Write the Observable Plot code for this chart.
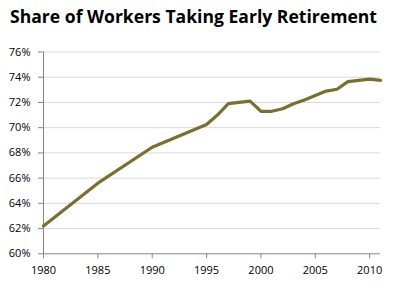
<!DOCTYPE html>
<html><head><meta charset="utf-8">
<script src="https://cdn.jsdelivr.net/npm/d3@7"></script>
<script src="https://cdn.jsdelivr.net/npm/@observablehq/plot@0.6"></script>
<style>
body{margin:0;background:#fff;width:395px;height:285px;overflow:hidden;}
#title{position:relative;height:40px;}
#title span{position:absolute;left:10px;top:3px;font:bold 18.5px "Open Sans",sans-serif;color:#000;white-space:nowrap;transform-origin:0 0;}
</style></head>
<body>
<div id="title"><span id="t">Share of Workers Taking Early Retirement</span></div>
<div id="chart"></div>
<script>
const years = [1980,1985,1990,1995,1996,1997,1998,1999,2000,2001,2002,2003,2004,2005,2006,2007,2008,2009,2010,2011];
const share = [62.2,65.6,68.45,70.25,71.0,71.9,72.0,72.1,71.3,71.3,71.5,71.9,72.2,72.55,72.9,73.05,73.65,73.75,73.85,73.75];
const yTicks = [60,62,64,66,68,70,72,74,76];
const xTicks = [1980,1985,1990,1995,2000,2005,2010];

const data = years.map((y,i)=>({year:y, v:share[i]}));

const t = document.getElementById("t");
const w = t.getBoundingClientRect().width;
t.style.transform = `scaleX(${367/w})`;

const chart = Plot.plot({
  width:395, height:245,
  marginTop:11.5, marginBottom:31.7, marginLeft:43, marginRight:15,
  style:{fontFamily:"Open Sans", fontSize:"11px", color:"#000", background:"#fff"},
  x:{domain:[1980,2011], ticks:xTicks, tickFormat:d=>String(d), tickSize:5, tickPadding:7, label:null},
  y:{domain:[60,76], ticks:yTicks, tickFormat:d=>d+"%", tickSize:5, tickPadding:8, label:null},
  marks:[
    Plot.ruleY(yTicks.filter(d=>d>60), {stroke:"#d9d9d9", strokeWidth:1}),
    Plot.ruleY([60], {stroke:"#868686", strokeWidth:1}),
    Plot.ruleX([1980], {stroke:"#868686", strokeWidth:1}),
    Plot.axisX({ticks:xTicks, tickFormat:d=>String(d), tickSize:5, tickPadding:7, stroke:"#868686", fill:"#000"}),
    Plot.axisY({ticks:yTicks, tickFormat:d=>d+"%", tickSize:5, tickPadding:8, stroke:"#868686", fill:"#000"}),
    Plot.line(data, {x:"year", y:"v", stroke:"#7a6f2c", strokeWidth:3.2, strokeLinejoin:"round"})
  ]
});
document.getElementById("chart").appendChild(chart);
</script>
</body></html>
